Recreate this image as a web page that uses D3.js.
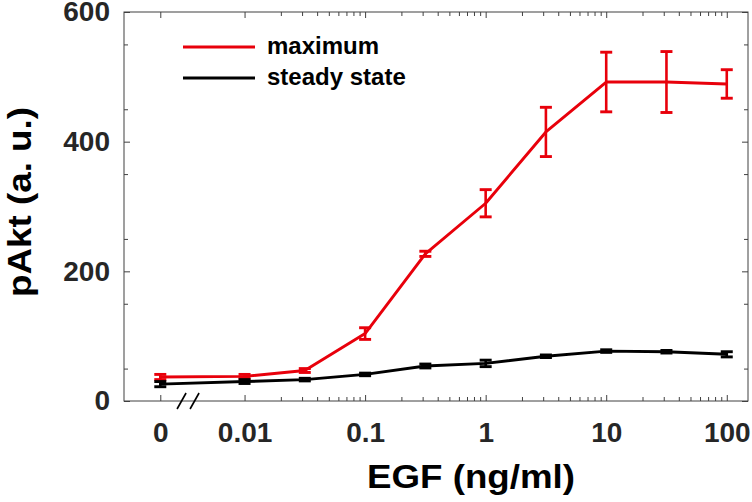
<!DOCTYPE html>
<html>
<head>
<meta charset="utf-8">
<script src="https://cdn.jsdelivr.net/npm/d3@7"></script>
<style>
  html, body { margin: 0; padding: 0; background: #fff; }
  svg { display: block; font-family: "Liberation Sans", Arial, sans-serif; font-weight: bold; }
</style>
</head>
<body>
<svg id="chart" width="752" height="502"></svg>
<script>
// ---- data ----
const egf = [0, 0.01, 0.0316, 0.1, 0.316, 1, 3.16, 10, 31.6, 100];
const maxMean = [37, 38, 47, 104, 227, 305, 415, 492, 492, 489];
const maxErr  = [4, 3, 3, 9, 4, 21, 38, 46, 47, 22];
const ssMean  = [26, 30, 33, 41, 54, 58, 69, 77, 76, 72];
const ssErr   = [4, 3, 2, 2, 3, 5, 2, 2, 2, 4];
const seriesNames = ["maximum", "steady state"];
const seriesColors = ["#e8000b", "#000000"];
const xTickValues = [0, 0.01, 0.1, 1, 10, 100];
const xTickLabels = ["0", "0.01", "0.1", "1", "10", "100"];
const yTickValues = [0, 200, 400, 600];
const zeroProxy = 0.002;   // where "0" sits on the broken log axis
const breakAt = 0.0034;    // axis break marker position

// ---- layout ----
const svg = d3.select("#chart");
const margin = {left: 124, top: 12, right: 4, bottom: 101};
const W = 752 - margin.left - margin.right;
const H = 502 - margin.top - margin.bottom;
const g = svg.append("g").attr("transform", `translate(${margin.left},${margin.top})`);

const x = d3.scaleLog().domain([0.001, 150]).range([0, W]);
const y = d3.scaleLinear().domain([0, 600]).range([H, 0]);
const xv = v => x(v === 0 ? zeroProxy : v);

const axisColor = "#404040";
const tickTextColor = "#262626";

// minor ticks
const xMinor = [];
[0.01, 0.1, 1, 10].forEach(d => { for (let k = 2; k <= 9; k++) xMinor.push(d * k); });
const yMinor = d3.range(50, 600, 100);

function styleAxis(sel) {
  sel.select(".domain").remove();
  sel.selectAll("line").attr("stroke", axisColor).attr("stroke-width", 1);
  sel.selectAll("text").attr("fill", tickTextColor).style("font-size", "28px").style("font-weight", "bold");
}

const xMajorVals = xTickValues.map(v => v === 0 ? zeroProxy : v);
// bottom
g.append("g").attr("transform", `translate(0,${H})`)
  .call(d3.axisBottom(x).tickValues(xMajorVals).tickSizeInner(-6).tickSizeOuter(0).tickPadding(21)
    .tickFormat((d, i) => xTickLabels[i]))
  .call(styleAxis);
g.append("g").attr("transform", `translate(0,${H})`)
  .call(d3.axisBottom(x).tickValues(xMinor).tickSizeInner(-4).tickSizeOuter(0).tickFormat(""))
  .call(styleAxis);
// top
g.append("g")
  .call(d3.axisTop(x).tickValues(xMajorVals).tickSizeInner(-6).tickSizeOuter(0).tickFormat(""))
  .call(styleAxis);
g.append("g")
  .call(d3.axisTop(x).tickValues(xMinor).tickSizeInner(-4).tickSizeOuter(0).tickFormat(""))
  .call(styleAxis);
// left
g.append("g")
  .call(d3.axisLeft(y).tickValues(yTickValues).tickSizeInner(-6).tickSizeOuter(0).tickPadding(14)
    .tickFormat(d3.format("d")))
  .call(styleAxis);
g.append("g")
  .call(d3.axisLeft(y).tickValues(yMinor).tickSizeInner(-4).tickSizeOuter(0).tickFormat(""))
  .call(styleAxis);
// right
g.append("g").attr("transform", `translate(${W},0)`)
  .call(d3.axisRight(y).tickValues(yTickValues).tickSizeInner(-6).tickSizeOuter(0).tickFormat(""))
  .call(styleAxis);
g.append("g").attr("transform", `translate(${W},0)`)
  .call(d3.axisRight(y).tickValues(yMinor).tickSizeInner(-4).tickSizeOuter(0).tickFormat(""))
  .call(styleAxis);

// box
g.append("rect").attr("x", 0).attr("y", 0).attr("width", W).attr("height", H)
  .attr("fill", "none").attr("stroke", axisColor).attr("stroke-width", 1);

// axis break marks
const bx = x(breakAt);
[-6.5, 6.5].forEach(off => {
  g.append("line")
    .attr("x1", bx + off - 4.5).attr("y1", H + 8)
    .attr("x2", bx + off + 4.5).attr("y2", H - 8)
    .attr("stroke", "#000").attr("stroke-width", 1.6);
});

// series
const series = [
  {name: seriesNames[0], color: seriesColors[0], mean: maxMean, err: maxErr},
  {name: seriesNames[1], color: seriesColors[1], mean: ssMean, err: ssErr}
];
const line = d3.line().x(d => xv(d.x)).y(d => y(d.m));
const cap = 6;
series.forEach(s => {
  const pts = egf.map((v, i) => ({x: v, m: s.mean[i], e: s.err[i]}));
  const sg = g.append("g");
  sg.append("path").datum(pts).attr("d", line)
    .attr("fill", "none").attr("stroke", s.color).attr("stroke-width", 2.9)
    .attr("stroke-linejoin", "round");
  const eb = sg.selectAll(".eb").data(pts).enter().append("g");
  eb.append("line")
    .attr("x1", d => xv(d.x)).attr("x2", d => xv(d.x))
    .attr("y1", d => y(d.m - d.e)).attr("y2", d => y(d.m + d.e))
    .attr("stroke", s.color).attr("stroke-width", 2.6);
  eb.append("line")
    .attr("x1", d => xv(d.x) - cap).attr("x2", d => xv(d.x) + cap)
    .attr("y1", d => y(d.m + d.e)).attr("y2", d => y(d.m + d.e))
    .attr("stroke", s.color).attr("stroke-width", 2.9);
  eb.append("line")
    .attr("x1", d => xv(d.x) - cap).attr("x2", d => xv(d.x) + cap)
    .attr("y1", d => y(d.m - d.e)).attr("y2", d => y(d.m - d.e))
    .attr("stroke", s.color).attr("stroke-width", 2.9);
});

// legend
const leg = svg.append("g").attr("transform", "translate(183,47)");
series.forEach((s, i) => {
  const row = leg.append("g").attr("transform", `translate(0,${i * 31})`);
  row.append("line").attr("x1", 0).attr("x2", 72).attr("y1", 0).attr("y2", 0)
    .attr("stroke", s.color).attr("stroke-width", 3);
  row.append("text").attr("x", 84).attr("y", 7).text(s.name)
    .attr("fill", "#000").style("font-size", "24px");
});

// axis labels
svg.append("text")
  .attr("x", 471).attr("y", 488).attr("text-anchor", "middle")
  .attr("textLength", 208).attr("lengthAdjust", "spacingAndGlyphs")
  .style("font-size", "33px").attr("fill", "#000")
  .text("EGF (ng/ml)");
svg.append("text")
  .attr("transform", "translate(31,202) rotate(-90)").attr("text-anchor", "middle")
  .attr("textLength", 190).attr("lengthAdjust", "spacingAndGlyphs")
  .style("font-size", "33px").attr("fill", "#000")
  .text("pAkt (a. u.)");
</script>
</body>
</html>
